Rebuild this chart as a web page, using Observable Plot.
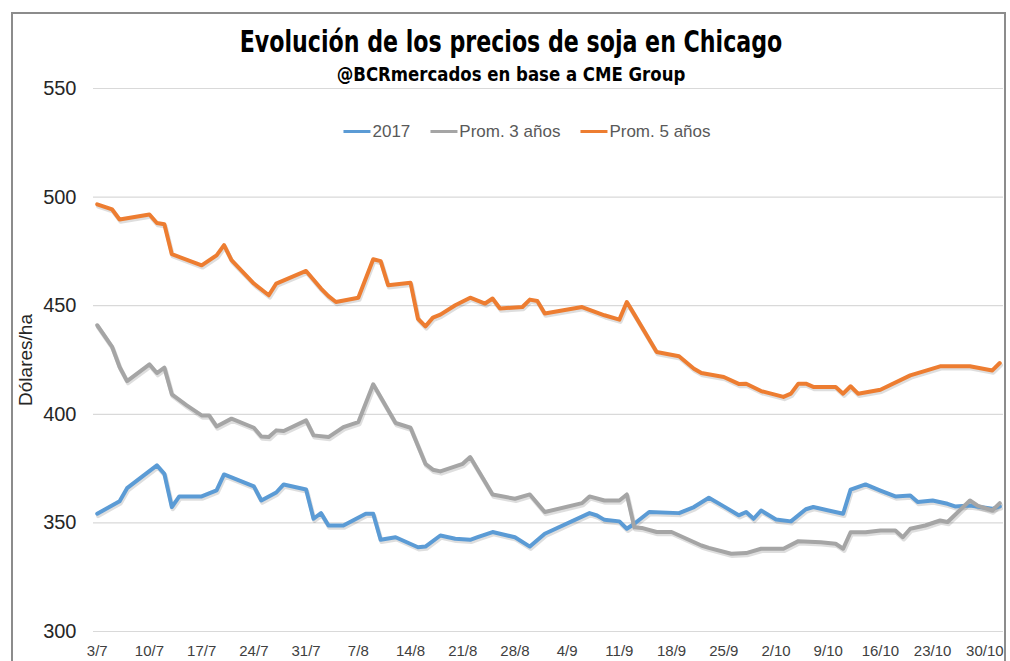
<!DOCTYPE html>
<html>
<head>
<meta charset="utf-8">
<script src="https://cdn.jsdelivr.net/npm/d3@7"></script>
<script src="https://cdn.jsdelivr.net/npm/@observablehq/plot@0.6"></script>
<style>
  html, body { margin: 0; padding: 0; background: #fff; overflow: hidden; }
  #wrap { position: relative; width: 1010px; height: 661px; overflow: hidden; font-family: "Liberation Sans", Arial, sans-serif; }
  #frame { position: absolute; left: 11px; top: 12px; width: 995px; height: 720px; border: 2px solid #8c8c8c; box-sizing: border-box; }
  #chart { position: absolute; left: 0; top: 0; }
  .head { position: absolute; left: 511px; white-space: nowrap; color: #000; font-family: "Liberation Sans Narrow", "DejaVu Sans Condensed", sans-serif; font-weight: bold; transform-origin: 50% 50%; }
  #title { top: 27px; font-size: 30px; line-height: 30px; transform: translateX(-50%) scaleX(0.82); }
  #subtitle { top: 64px; font-size: 20px; line-height: 20px; transform: translateX(-50%) scaleX(0.92); }
  #legend { position: absolute; top: 123px; left: 527px; transform: translateX(-50%); white-space: nowrap; font-size: 17px; line-height: 17px; color: #595959; }
  #legend span.item { display: inline-block; margin: 0 10px; }
  #legend span.sw { display: inline-block; width: 27px; height: 3px; vertical-align: middle; margin-right: 2px; position: relative; top: -1px; }
</style>
</head>
<body>
<div id="wrap">
  <div id="frame"></div>
  <div id="chart"></div>
  <div id="title" class="head">Evolución de los precios de soja en Chicago</div>
  <div id="subtitle" class="head">@BCRmercados en base a CME Group</div>
  <div id="legend"></div>
</div>
<script>
// ---- Data ----
const series = ["2017", "Prom. 3 años", "Prom. 5 años"];
const colores = ["#5b9bd5", "#a5a5a5", "#ed7d31"];

const fechas2017 = ["07-03","07-06","07-07","07-11","07-12","07-13","07-14","07-17","07-19","07-20","07-24","07-25","07-27","07-28","07-31",
  "08-01","08-02","08-03","08-05","08-08","08-09","08-10","08-12","08-15","08-16","08-18","08-20","08-22","08-23","08-25","08-28","08-30",
  "09-01","09-07","09-08","09-09","09-11","09-12","09-13","09-15","09-19","09-21","09-23","09-25","09-27","09-28","09-29","09-30",
  "10-02","10-04","10-06","10-07","10-11","10-12","10-14","10-16","10-18","10-20","10-21","10-23","10-25","10-26","10-28","10-31","11-01"];
const precios2017 = [354.2,360,366,376.5,372.6,357.3,362.2,362.2,365,372.3,366.8,360.3,364,367.7,365.4,
  351.9,354.5,348.8,348.8,354.2,354.2,342.2,343.4,338.8,339.1,344.2,342.7,342.2,343.4,345.8,343.4,339.1,
  345,354.5,353.4,351.4,350.7,347.3,349.6,355,354.5,357.3,361.6,357.6,353.5,355,351.9,355.7,
  351.6,350.7,356.3,357.3,354.2,365.3,367.7,364.9,362.2,362.6,359.6,360.3,358.8,357.6,358,356.5,357.6];

const fechasProm3 = ["07-03","07-05","07-06","07-07","07-10","07-11","07-12","07-13","07-15","07-17","07-18","07-19","07-21","07-24","07-25","07-26","07-27","07-28","07-31",
  "08-01","08-03","08-05","08-07","08-09","08-12","08-14","08-16","08-17","08-18","08-20","08-21","08-22","08-25","08-28","08-30",
  "09-01","09-06","09-07","09-09","09-11","09-12","09-13","09-14","09-16","09-18","09-20","09-22","09-23","09-26","09-28","09-30",
  "10-03","10-05","10-08","10-10","10-11","10-12","10-14","10-16","10-18","10-19","10-20","10-22","10-24","10-25","10-28","10-29","10-31","11-01"];
const preciosProm3 = [441,431,421.8,415.3,423,419,421.5,409.2,404.1,399.5,399.5,394.4,398,393.8,389.8,389.5,392.6,392.3,397.2,
  390.3,389.5,394.1,396.4,413.8,396,393.8,377.2,374.5,373.7,376,377.2,380.3,363.1,361.1,363.1,
  355,359.1,362.2,360.3,360.3,363.1,348,347.7,345.8,345.8,342.7,339.6,338.5,335.8,336.1,338.1,
  338.1,341.6,341.1,340.4,338.1,345.7,345.7,346.5,346.5,343.4,347.3,348.8,351.1,350.4,360.3,358,355.7,359.1];

const fechasProm5 = ["07-03","07-04","07-05","07-06","07-10","07-11","07-12","07-13","07-17","07-19","07-20","07-21","07-24","07-26","07-27","07-31",
  "08-02","08-03","08-04","08-07","08-09","08-10","08-11","08-14","08-15","08-16","08-17","08-18","08-20","08-22","08-24","08-25","08-26","08-29","08-30","08-31",
  "09-01","09-06","09-09","09-11","09-12","09-13","09-16","09-19","09-21","09-22","09-25","09-27","09-28","09-30",
  "10-03","10-04","10-05","10-06","10-07","10-10","10-11","10-12","10-13","10-16","10-20","10-24","10-28","10-31","11-01"];
const preciosProm5 = [496.7,495.5,494.3,489.7,492,488.1,487.5,473.7,468.6,473.2,477.9,471,460.2,454.8,460.2,466,
  457.9,454.4,451.7,453.7,471.4,470.5,459.4,460.6,444,440.5,444.5,445.9,450.2,453.7,451,453.3,448.7,449.4,452.8,452.2,
  446.4,449.4,445.6,443.6,451.7,446,428.7,426.7,421,419,417.2,414,414.1,410.7,
  408,409.5,414.1,414.1,412.6,412.6,409.5,412.9,409.5,411.3,417.9,422.1,422.1,420.2,423.6];

const ticksY = [300, 350, 400, 450, 500, 550];
const ticksX = ["07-03","07-10","07-17","07-24","07-31","08-07","08-14","08-21","08-28","09-04","09-11","09-18","09-25","10-02","10-09","10-16","10-23","10-30"];
const tituloY = "Dólares/ha";

// ---- Build table ----
const parse = s => new Date(`2017-${s}T00:00:00Z`);
const fuentes = [[fechas2017, precios2017], [fechasProm3, preciosProm3], [fechasProm5, preciosProm5]];
const datos = [];
fuentes.forEach(([f, v], i) => f.forEach((d, j) => datos.push({serie: series[i], fecha: parse(d), precio: v[j]})));

const DAY = 864e5;
const x0 = new Date(parse("07-03").getTime() - 0.5 * DAY);
const x1 = new Date(parse("11-01").getTime() + 0.5 * DAY);

const chart = Plot.plot({
  width: 1010,
  height: 661,
  marginTop: 88,
  marginBottom: 30,
  marginLeft: 93,
  marginRight: 7,
  style: {fontFamily: "'Liberation Sans', Arial, sans-serif", color: "#404040", background: "transparent"},
  x: {type: "utc", domain: [x0, x1]},
  y: {domain: [300, 550]},
  color: {domain: series, range: colores},
  marks: [
    Plot.ruleY(ticksY, {stroke: "#d9d9d9", strokeWidth: 1.2}),
    Plot.axisY({ticks: ticksY, tickSize: 0, tickPadding: 17, fontSize: 20, label: null, fill: "#262626"}),
    Plot.axisX({ticks: ticksX.map(parse), tickSize: 0, tickPadding: 14, fontSize: 15, label: null, fill: "#404040",
      tickFormat: d => `${d.getUTCDate()}/${d.getUTCMonth() + 1}`}),
    Plot.text([tituloY], {frameAnchor: "left", textAnchor: "middle", rotate: -90, dx: -68, fontSize: 19, fill: "#262626"}),
    Plot.line(datos, {x: "fecha", y: "precio", z: "serie", stroke: "#000", strokeOpacity: 0.13, strokeWidth: 4.5, dx: 1, dy: 2, curve: "linear"}),
    Plot.line(datos, {x: "fecha", y: "precio", z: "serie", stroke: "serie", strokeWidth: 4, strokeLinejoin: "round", strokeLinecap: "round"})
  ]
});
document.getElementById("chart").appendChild(chart);

// ---- Legend ----
const leg = document.getElementById("legend");
series.forEach((s, i) => {
  const it = document.createElement("span");
  it.className = "item";
  const sw = document.createElement("span");
  sw.className = "sw";
  sw.style.background = colores[i];
  it.appendChild(sw);
  it.appendChild(document.createTextNode(s));
  leg.appendChild(it);
});
</script>
</body>
</html>
